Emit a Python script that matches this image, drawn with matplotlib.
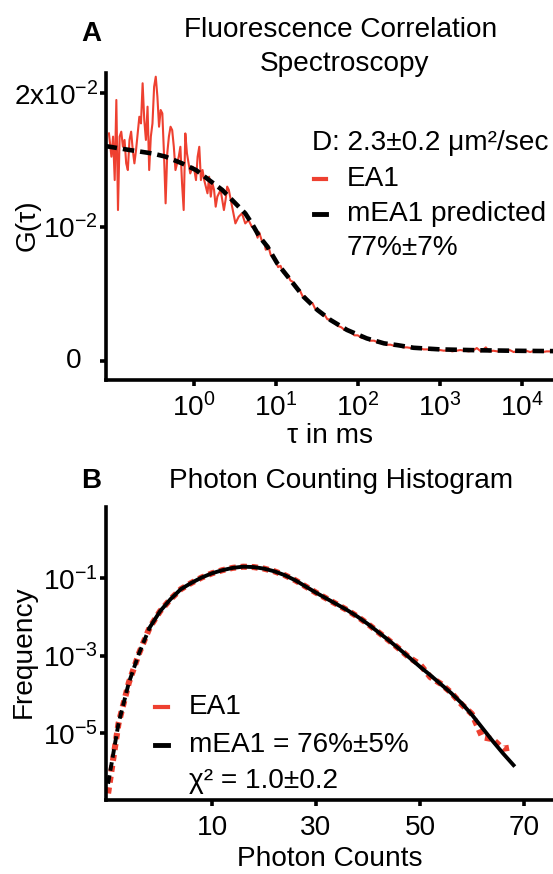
import matplotlib
matplotlib.use("Agg")
import matplotlib.pyplot as plt
from matplotlib.lines import Line2D
import numpy as np

plt.rcParams['font.family'] = ['Liberation Sans', 'DejaVu Sans']
plt.rcParams['mathtext.fontset'] = 'custom'
plt.rcParams['mathtext.rm'] = 'Liberation Sans'
plt.rcParams['mathtext.it'] = 'Liberation Sans:italic'
plt.rcParams['mathtext.bf'] = 'Liberation Sans:bold'

# ---------------- Panel A data (FCS) ----------------
# log10(tau in ms) and G(tau) in units of 1e-3
ea1_log_tau = [
    -1.03, -1.00, -0.98, -0.96, -0.94, -0.92, -0.90, -0.88, -0.86, -0.84,
    -0.82, -0.80, -0.78, -0.76, -0.74, -0.72, -0.70, -0.68, -0.66, -0.64,
    -0.62, -0.60, -0.58, -0.56, -0.54, -0.52, -0.50, -0.48, -0.46, -0.44,
    -0.42, -0.40, -0.38, -0.36, -0.34, -0.32, -0.30, -0.28, -0.26, -0.24,
    -0.22, -0.20, -0.18, -0.16, -0.14, -0.12, -0.10, -0.08, -0.06, -0.04,
    -0.01, 0.01, 0.03, 0.05, 0.07, 0.09, 0.11, 0.13, 0.15, 0.17,
    0.19, 0.21, 0.23, 0.25, 0.27, 0.29, 0.31, 0.33, 0.35, 0.37,
    0.39, 0.41, 0.43, 0.47, 0.51, 0.55, 0.59, 0.63, 0.67, 0.71,
    0.75, 0.78, 0.80, 0.83, 0.86, 0.88, 0.91, 0.94, 0.97, 1.00,
    1.03, 1.06, 1.09, 1.12, 1.15, 1.18, 1.21, 1.24, 1.27, 1.30,
    1.33, 1.36, 1.39, 1.42, 1.45, 1.48, 1.51, 1.54, 1.57, 1.60,
    1.63, 1.66, 1.69, 1.72, 1.76, 1.80, 1.84, 1.88, 1.92, 1.96,
    2.00, 2.05, 2.10, 2.15, 2.20, 2.25, 2.30, 2.35, 2.40, 2.45,
    2.50, 2.55, 2.60, 2.65, 2.70, 2.75, 2.80, 2.85, 2.90, 2.95,
    3.00, 3.05, 3.10, 3.15, 3.20, 3.25, 3.30, 3.35, 3.40, 3.45,
    3.50, 3.56, 3.60, 3.65, 3.70, 3.75, 3.80, 3.85, 3.90, 3.95,
    4.00, 4.05, 4.10, 4.15, 4.20, 4.25, 4.30, 4.35, 4.40,
]
ea1_g = [
    17.0, 15.26, 16.76, 13.51, 19.5, 11.27, 16.76, 17.13, 16.0, 16.51,
    14.76, 14.26, 16.51, 17.13, 15.76, 14.76, 15.76, 17.0, 18.25, 17.75,
    20.75, 18.0, 16.51, 19.0, 14.26, 16.76, 17.75, 20.49, 21.24, 19.75,
    17.5, 18.75, 18.5, 15.51, 11.77, 15.51, 16.76, 17.5, 17.25, 16.0,
    14.26, 14.76, 15.26, 16.0, 13.27, 11.27, 17.0, 15.51, 14.76, 14.01,
    14.51, 14.26, 13.51, 15.26, 16.0, 13.51, 14.26, 13.51, 13.02, 12.52,
    13.76, 12.27, 13.27, 12.77, 11.52, 12.27, 12.52, 12.77, 12.02, 11.27,
    12.02, 13.02, 12.77, 11.52, 10.27, 10.77, 11.02, 10.27, 10.52, 10.02,
    9.9, 9.2, 9.6, 9.0, 8.9, 8.3, 8.6, 7.9, 7.8, 7.5,
    7.0, 7.1, 6.6, 6.5, 6.4, 6.0, 5.9, 5.5, 5.4, 5.2,
    4.8, 4.8, 4.5, 4.3, 4.3, 3.9, 3.8, 3.7, 3.4, 3.4,
    3.1, 3.1, 2.9, 2.8, 2.6, 2.5, 2.3, 2.3, 2.1, 1.9,
    1.9, 1.7, 1.7, 1.5, 1.5, 1.35, 1.35, 1.2, 1.2, 1.1,
    1.15, 1.0, 1.0, 0.95, 0.9, 0.95, 0.85, 0.85, 0.8, 0.85,
    0.8, 0.75, 0.8, 0.7, 0.75, 0.8, 0.75, 0.7, 0.75, 0.95,
    0.7, 1.0, 0.7, 0.75, 0.7, 0.75, 0.7, 0.8, 0.65, 0.75,
    0.7, 0.75, 0.65, 0.75, 0.7, 0.65, 0.7, 0.7, 0.7,
]
pred_log_tau = [-1.07, -0.78, -0.50, -0.34, -0.14, 0.03, 0.19, 0.35, 0.51, 0.63,
                0.71, 0.80, 0.90, 1.02, 1.18, 1.34, 1.51, 1.67, 1.87, 2.11,
                2.32, 2.48, 2.68, 3.00, 3.50, 4.00, 4.40]
pred_g = [16.05, 15.76, 15.5, 15.26, 14.76, 14.26, 13.51, 12.77, 11.77, 11.02,
          10.27, 9.3, 8.53, 7.28, 6.04, 4.79, 3.79, 3.04, 2.30, 1.67,
          1.30, 1.17, 0.97, 0.85, 0.78, 0.74, 0.72]

a_xticks = [1, 10, 100, 1000, 10000]
a_xticklabels = ['10$^{0}$', '10$^{1}$', '10$^{2}$', '10$^{3}$', '10$^{4}$']
a_yticks = [0.0, 0.01, 0.02]
a_yticklabels = ['0', '10$^{-2}$', '2x10$^{-2}$']

# ---------------- Panel B data (PCH) ----------------
pch_counts = [-10, -8, -6, -4, -2, 0, 2, 4, 6, 8, 10, 12, 14, 16, 18, 20,
              22, 24, 26, 28, 30, 32, 34, 36, 38, 40, 42, 44, 46, 48, 50,
              52, 54, 56, 58, 60, 62, 64, 66, 68]
ea1_log_freq = [-6.55, -4.75, -3.69, -2.92, -2.27, -1.85, -1.54, -1.28, -1.12,
                -0.98, -0.87, -0.79, -0.73, -0.70, -0.71, -0.75, -0.82, -0.92,
                -1.05, -1.21, -1.37, -1.52, -1.67, -1.82, -1.99, -2.18, -2.39,
                -2.60, -2.82, -3.05, -3.22, -3.55, -3.72, -3.95, -4.25, -4.50,
                -5.10, -5.15, -5.40, -5.35]
fit_counts = [-10, -8, -6, -4, -2, 0, 2, 4, 6, 8, 10, 12, 14, 16, 18, 20,
              22, 24, 26, 28, 30, 32, 34, 36, 38, 40, 42, 44, 46, 48, 50,
              52, 54, 56, 58, 60, 62, 64, 66, 68]
fit_log_freq = [-6.3, -4.75, -3.69, -2.92, -2.27, -1.85, -1.54, -1.28, -1.12,
                -0.98, -0.87, -0.79, -0.73, -0.70, -0.71, -0.75, -0.82, -0.92,
                -1.05, -1.21, -1.37, -1.52, -1.67, -1.82, -1.99, -2.18, -2.39,
                -2.60, -2.82, -3.05, -3.28, -3.50, -3.73, -3.96, -4.22, -4.52,
                -4.86, -5.20, -5.52, -5.82]
b_xticks = [10, 30, 50, 70]
b_yticks = [1e-1, 1e-3, 1e-5]
b_yticklabels = ['10$^{-1}$', '10$^{-3}$', '10$^{-5}$']

RED = '#ee4030'
W, H = 553, 874
FS = 20.2
fig = plt.figure(figsize=(W / 100, H / 100), dpi=100)


def fx(x):
    return x / W


def fy(y):
    return 1 - y / H


def style_axes(ax, xpad):
    for s in ['top', 'right']:
        ax.spines[s].set_visible(False)
    for s in ['left', 'bottom']:
        ax.spines[s].set_linewidth(2.6)
    ax.tick_params(axis='both', which='major', direction='out', length=4.3,
                   width=2.6, labelsize=FS)
    ax.tick_params(axis='y', pad=1.5)
    ax.tick_params(axis='x', pad=xpad)
    ax.tick_params(axis='both', which='minor', length=0)


# ---------------- Panel A ----------------
axA = fig.add_axes([fx(106), fy(380), 1 - fx(106), (380 - 73.5) / H])
axA.plot([10 ** v for v in ea1_log_tau], [g * 1e-3 for g in ea1_g],
         color=RED, lw=1.5, zorder=2)
axA.plot([10 ** v for v in pred_log_tau], [g * 1e-3 for g in pred_g],
         color='black', lw=3.3, ls=(0, (2.5, 1.3)), zorder=3)
axA.set_xscale('log')
axA.set_xlim(10 ** -1.066, 10 ** 4.378)
axA.set_ylim(-0.00144, 0.02148)
axA.set_xticks(a_xticks)
axA.set_xticklabels(a_xticklabels)
axA.set_yticks(a_yticks)
# the "0" label sits further left in the reference; drawn as its own text below
axA.set_yticklabels([''] + a_yticklabels[1:])
axA.xaxis.set_minor_locator(matplotlib.ticker.NullLocator())
style_axes(axA, 5.0)
axA.text(-0.055, 0.0, a_yticklabels[0], transform=axA.get_yaxis_transform(),
         fontsize=FS, ha='right', va='center')

# ---------------- Panel B ----------------
axB = fig.add_axes([fx(106), fy(800), 1 - fx(106), (800 - 507) / H])
axB.plot(pch_counts, [10 ** v for v in ea1_log_freq], color=RED, lw=4.4,
         ls=(0, (1.0, 0.8)), zorder=2)
cut = fit_counts.index(-2)
axB.plot(fit_counts[:cut + 1], [10 ** v for v in fit_log_freq[:cut + 1]],
         color='black', lw=2.8, ls=(0, (2.2, 1.2)), zorder=3)
axB.plot(fit_counts[cut:], [10 ** v for v in fit_log_freq[cut:]],
         color='black', lw=2.8, zorder=3)
axB.set_yscale('log')
axB.set_xlim(-10.4, 75.6)
axB.set_ylim(10 ** -6.72, 10 ** 0.84)
axB.set_xticks(b_xticks)
axB.set_xticklabels([str(t) for t in b_xticks])
axB.set_yticks(b_yticks)
axB.set_yticklabels(b_yticklabels)
axB.yaxis.set_minor_locator(matplotlib.ticker.NullLocator())
style_axes(axB, 6.5)

# ---------------- Texts ----------------
fig.text(fx(91), fy(34), 'A', fontsize=20, fontweight='bold', ha='center', va='center')
fig.text(fx(341), fy(30), 'Fluorescence Correlation', fontsize=FS, ha='center', va='center')
fig.text(fx(345), fy(64), 'Spectroscopy', fontsize=FS, ha='center', va='center')
fig.text(fx(330), fy(436), '\u03c4 in ms', fontsize=FS, ha='center', va='center')
fig.text(fx(28), fy(225), 'G(\u03c4)', fontsize=FS, ha='center', va='center', rotation=90)

fig.text(fx(312), fy(143), 'D: 2.3\u00b10.2 \u03bcm\u00b2/sec', fontsize=FS, ha='left', va='center')
fig.text(fx(347), fy(179), 'EA1', fontsize=FS, ha='left', va='center')
fig.text(fx(347), fy(214), 'mEA1 predicted', fontsize=FS, ha='left', va='center')
fig.text(fx(347), fy(248), '77%\u00b17%', fontsize=FS, ha='left', va='center')
fig.add_artist(Line2D([fx(314), fx(326)], [fy(179), fy(179)], color=RED, lw=3.0))
fig.add_artist(Line2D([fx(314), fx(326)], [fy(214), fy(214)], color='black', lw=3.5))

fig.text(fx(91), fy(481), 'B', fontsize=20, fontweight='bold', ha='center', va='center')
fig.text(fx(341), fy(481), 'Photon Counting Histogram', fontsize=FS, ha='center', va='center')
fig.text(fx(330), fy(859), 'Photon Counts', fontsize=FS, ha='center', va='center')
fig.text(fx(24), fy(652), 'Frequency', fontsize=FS, ha='center', va='center', rotation=90)

fig.text(fx(189), fy(707), 'EA1', fontsize=FS, ha='left', va='center')
fig.text(fx(189), fy(745), 'mEA1 = 76%\u00b15%', fontsize=FS, ha='left', va='center')
fig.text(fx(189), fy(781), '\u03c7\u00b2 = 1.0\u00b10.2', fontsize=FS, ha='left', va='center')
fig.add_artist(Line2D([fx(155), fx(168)], [fy(707), fy(707)], color=RED, lw=3.0))
fig.add_artist(Line2D([fx(155), fx(168)], [fy(745), fy(745)], color='black', lw=3.5))

fig.savefig('out.png', dpi=100)
